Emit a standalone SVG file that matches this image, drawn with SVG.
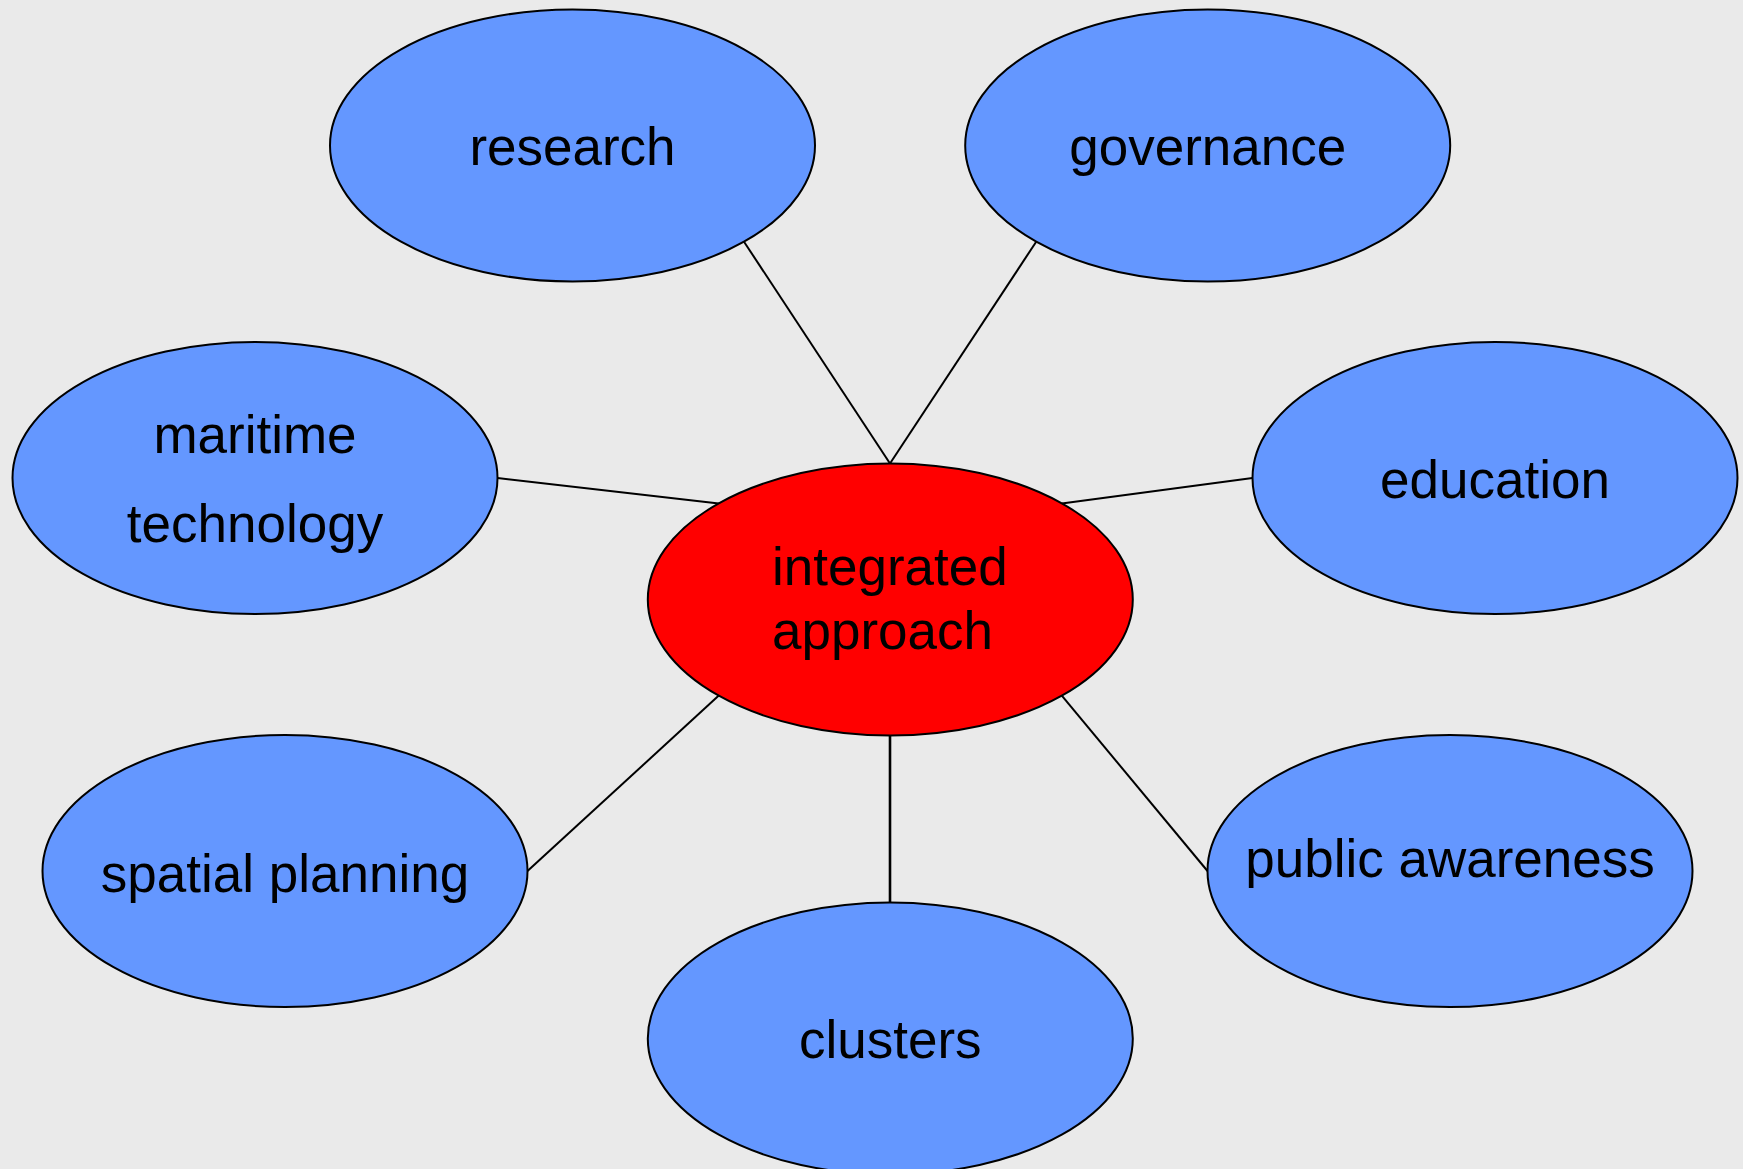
<svg xmlns="http://www.w3.org/2000/svg" width="1743" height="1169" viewBox="0 0 1743 1169">
<style>
.bg{fill:#eaeaea}
.node{fill:#6497ff;stroke:#000;stroke-width:2}
.hub{fill:#ff0000;stroke:#000;stroke-width:2}
.lbl{font-family:"Liberation Sans",Arial,sans-serif;font-size:53px;fill:#000;text-anchor:middle}
.conn line{stroke:#000;stroke-width:2}
</style>
<rect class="bg" x="0" y="0" width="1743" height="1169"/>
<g id="connectors" class="conn">
<line x1="744" y1="241.7" x2="890" y2="463.5"/>
<line x1="1036.2" y1="241.7" x2="890" y2="463.5"/>
<line x1="497.5" y1="478" x2="718.8" y2="503.4"/>
<line x1="1252.5" y1="478" x2="1061.8" y2="503.4"/>
<line x1="527.5" y1="871" x2="718.8" y2="695.6"/>
<line x1="1207.5" y1="871" x2="1061.8" y2="695.6"/>
<line x1="890" y1="735" x2="890" y2="902.5" style="stroke-width:2.6"/>
</g>
<g id="research">
<ellipse class="node" cx="572.5" cy="145.5" rx="242.5" ry="136"/>
<text class="lbl" x="572.5" y="165">research</text>
</g>
<g id="governance">
<ellipse class="node" cx="1207.7" cy="145.5" rx="242.5" ry="136"/>
<text class="lbl" x="1207.7" y="165">governance</text>
</g>
<g id="maritime-technology">
<ellipse class="node" cx="255" cy="478" rx="242.5" ry="136"/>
<text class="lbl" x="255" y="453">maritime</text>
<text class="lbl" x="255" y="542">technology</text>
</g>
<g id="education">
<ellipse class="node" cx="1495" cy="478" rx="242.5" ry="136"/>
<text class="lbl" x="1495" y="497.5">education</text>
</g>
<g id="integrated-approach">
<ellipse class="hub" cx="890.3" cy="599.5" rx="242.5" ry="136"/>
<text class="lbl" x="772" y="585" style="text-anchor:start">integrated</text>
<text class="lbl" x="772" y="649" style="text-anchor:start">approach</text>
</g>
<g id="spatial-planning">
<ellipse class="node" cx="285" cy="871" rx="242.5" ry="136"/>
<text class="lbl" x="285" y="891.5">spatial planning</text>
</g>
<g id="clusters">
<ellipse class="node" cx="890.3" cy="1038.5" rx="242.5" ry="136"/>
<text class="lbl" x="890.3" y="1058">clusters</text>
</g>
<g id="public-awareness">
<ellipse class="node" cx="1450" cy="871" rx="242.5" ry="136"/>
<text class="lbl" x="1450" y="877.3">public awareness</text>
</g>
</svg>
